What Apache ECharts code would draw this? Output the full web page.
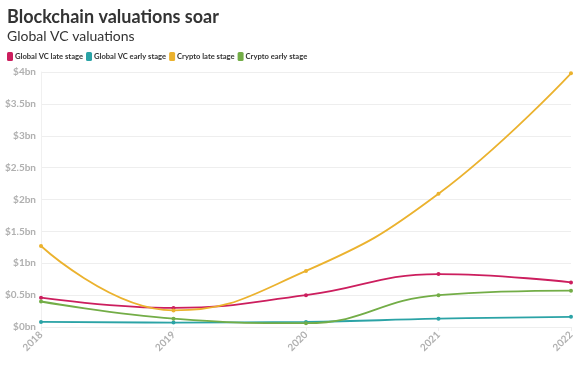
<!DOCTYPE html>
<html><head><meta charset="utf-8">
<script src="https://cdn.jsdelivr.net/npm/echarts@6/dist/echarts.min.js"></script>
<style>html,body{margin:0;padding:0;background:#fff}#c{width:583px;height:365px}</style>
</head><body><div id="c"></div>
<script>
const years = ['2018','2019','2020','2021','2022'];
const yTicks = [0,0.5,1,1.5,2,2.5,3,3.5,4];
const vcLate = [0.46,0.30,0.50,0.83,0.70];
const vcEarly = [0.08,0.07,0.08,0.13,0.16];
const cryptoLate = [1.27,0.26,0.88,2.09,3.98];
const cryptoEarly = [0.40,0.13,0.06,0.50,0.57];
const names = ['Global VC late stage','Global VC early stage','Crypto late stage','Crypto early stage'];
const colors = ['#cc1e5e','#2ba3a6','#ebb22e','#73ad47'];
const dataSets = [vcLate, vcEarly, cryptoLate, cryptoEarly];
const font = 'Lato, "Open Sans", sans-serif';
const chart = echarts.init(document.getElementById('c'));
chart.setOption({
  animation:false,
  color: colors,
  title:{text:'Blockchain valuations soar', subtext:'Global VC valuations', left:2, top:3, itemGap:3,
    textStyle:{fontFamily:font,fontSize:18,fontWeight:'bold',color:'#333'},
    subtextStyle:{fontFamily:font,fontSize:14,color:'#333'}},
  legend:{left:2, top:47, itemWidth:6, itemHeight:9, itemGap:3, icon:'roundRect',
    textStyle:{fontFamily:font,fontSize:7.6,fontWeight:'bold',color:'#333',padding:[0,0,0,-3]},
    data:names},
  grid:{left:41, right:12, top:72, bottom:38},
  xAxis:{type:'category', data:years, boundaryGap:false,
    axisLine:{show:false}, axisTick:{show:true,length:4,lineStyle:{color:'#eeeeee'}},
    splitLine:{show:false},
    axisLabel:{rotate:45, fontFamily:font, fontSize:10, fontWeight:'bold', color:'#b0b0b0', margin:6}},
  yAxis:{type:'value', min:0, max:4, interval:0.5,
    axisLine:{show:true,lineStyle:{color:'#f0f0f0'}}, axisTick:{show:false},
    splitLine:{lineStyle:{color:'#eeeeee'}},
    axisLabel:{fontFamily:font, fontSize:10, fontWeight:'bold', color:'#b0b0b0', margin:5,
      formatter:v=>'$'+v+'bn'}},
  series: dataSets.map((d,i)=>({name:names[i], type:'line', data:d, smooth:0.45,
    symbol:'circle', symbolSize:4, lineStyle:{width:1.8}, itemStyle:{color:colors[i]}}))
});
</script></body></html>
